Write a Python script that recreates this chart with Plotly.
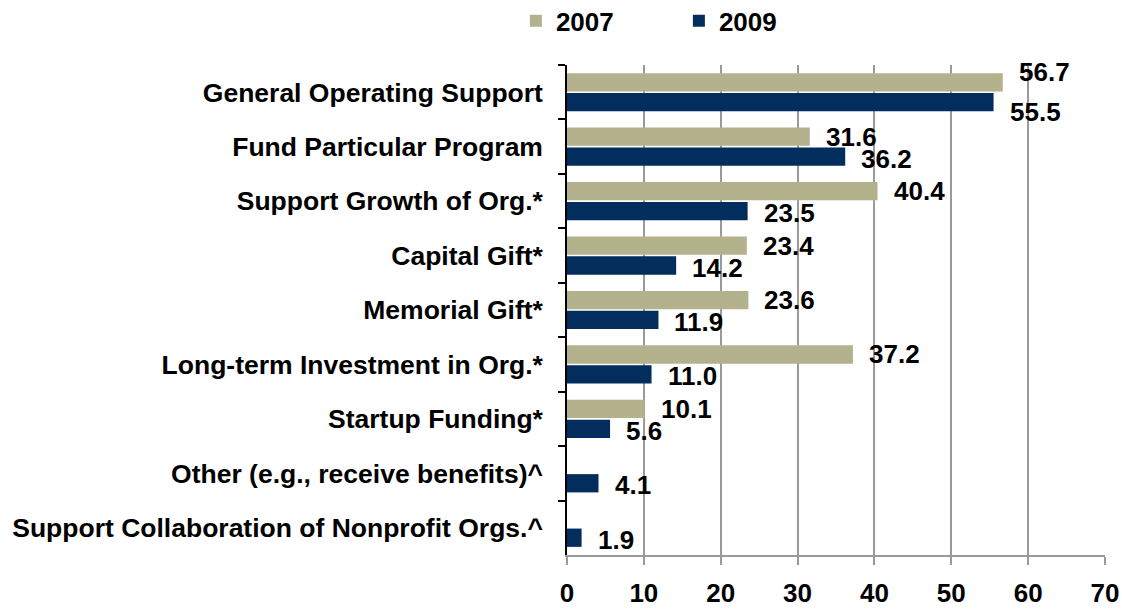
import plotly.graph_objects as go

# Purposes of giving, share of respondents (%)
categories = [
    "General Operating Support",
    "Fund Particular Program",
    "Support Growth of Org.*",
    "Capital Gift*",
    "Memorial Gift*",
    "Long-term Investment in Org.*",
    "Startup Funding*",
    "Other (e.g., receive benefits)^",
    "Support Collaboration of Nonprofit Orgs.^",
]
values_2007 = [56.7, 31.6, 40.4, 23.4, 23.6, 37.2, 10.1, None, None]
values_2009 = [55.5, 36.2, 23.5, 14.2, 11.9, 11.0, 5.6, 4.1, 1.9]
x_ticks = [0, 10, 20, 30, 40, 50, 60, 70]

TAN = "#B3B28D"
NAVY = "#032D5C"
FONT = "Liberation Sans, Arial, sans-serif"

fig = go.Figure()
fig.add_trace(go.Bar(name="2007", y=categories, x=values_2007, orientation="h",
                     marker=dict(color=TAN, line=dict(width=0))))
fig.add_trace(go.Bar(name="2009", y=categories, x=values_2009, orientation="h",
                     marker=dict(color=NAVY, line=dict(width=0))))

# value labels just right of each bar end, nudged above / below the bar pair
extra_spread = {"General Operating Support": 10}
for vals, shift in ((values_2007, 10), (values_2009, -12)):
    for cat, v in zip(categories, vals):
        if v is None:
            continue
        nudge = extra_spread.get(cat, 0)
        s = shift + (nudge if shift > 0 else -nudge * 0.8)
        fig.add_annotation(x=v, y=cat, xref="x", yref="y", text=f"{v:.1f}",
                           showarrow=False, xanchor="left", xshift=14, yshift=s,
                           font=dict(family=FONT, size=26, color="black", weight="bold"))

fig.update_layout(
    width=1122, height=609,
    margin=dict(l=567, r=17, t=65, b=54, autoexpand=False),
    paper_bgcolor="white", plot_bgcolor="white",
    barmode="group", bargap=0.27, bargroupgap=0.08,
    font=dict(family=FONT, size=26, color="black", weight="bold"),
    showlegend=True,
    legend=dict(orientation="h", x=-0.095, xanchor="left", y=1.09, yanchor="middle",
                entrywidth=118, font=dict(family=FONT, size=26, weight="bold"),
                bgcolor="rgba(0,0,0,0)"),
    xaxis=dict(range=[0, 70], tickvals=x_ticks, showgrid=True, gridcolor="#9A9A9A",
               gridwidth=1.6, zeroline=False, showline=True, linecolor="#9A9A9A",
               linewidth=2, ticks="outside", ticklen=8, tickwidth=2, tickcolor="#9A9A9A",
               ticklabelstandoff=6,
               tickfont=dict(family=FONT, size=26, color="black", weight="bold")),
    yaxis=dict(type="category", range=[len(categories) - 0.5, -0.5], showline=True,
               linecolor="black", linewidth=1.5, ticks="outside", ticklen=7,
               tickwidth=1.5, tickcolor="black", tickson="boundaries", showgrid=False,
               ticklabelstandoff=17,
               tickfont=dict(family=FONT, size=26.5, color="black", weight="bold")),
)

fig.write_html("out.html")
